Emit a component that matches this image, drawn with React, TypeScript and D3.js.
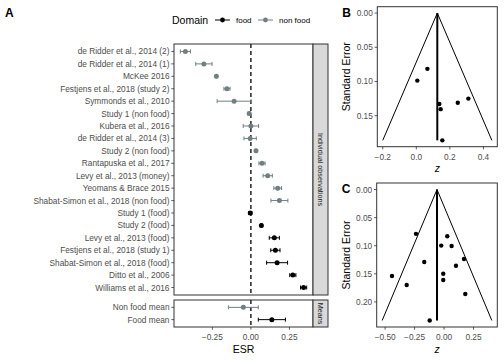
import React from "react";
import * as d3 from "d3";

// panel A: individual observations
const studies = [
  "de Ridder et al., 2014 (2)",
  "de Ridder et al., 2014 (1)",
  "McKee 2016",
  "Festjens et al., 2018 (study 2)",
  "Symmonds et al., 2010",
  "Study 1 (non food)",
  "Kubera et al., 2016",
  "de Ridder et al., 2014 (3)",
  "Study 2 (non food)",
  "Rantapuska et al., 2017",
  "Levy et al., 2013 (money)",
  "Yeomans & Brace 2015",
  "Shabat-Simon et al., 2018 (non food)",
  "Study 1 (food)",
  "Study 2 (food)",
  "Levy et al., 2013 (food)",
  "Festjens et al., 2018 (study 1)",
  "Shabat-Simon et al., 2018 (food)",
  "Ditto et al., 2006",
  "Williams et al., 2016",
];
const studyEsr = [
  -0.425, -0.305, -0.224, -0.155, -0.109, -0.011, 0.0, -0.005, 0.033, 0.072,
  0.109, 0.174, 0.185, -0.004, 0.068, 0.152, 0.159, 0.17, 0.272, 0.342,
];
const studyHalf = [
  0.033, 0.053, 0.004, 0.02, 0.11, 0.008, 0.05, 0.04, 0.006, 0.02, 0.03, 0.025,
  0.055, 0.01, 0.005, 0.033, 0.03, 0.068, 0.02, 0.02,
];
const studyDomain = [
  "non food", "non food", "non food", "non food", "non food", "non food",
  "non food", "non food", "non food", "non food", "non food", "non food",
  "non food", "food", "food", "food", "food", "food", "food", "food",
];

// panel A: means
const meanLabels = ["Non food mean", "Food mean"];
const meanEsr = [-0.049, 0.136];
const meanHalf = [0.097, 0.088];
const meanDomain = ["non food", "food"];

const xTicksA = [-0.25, 0, 0.25];

// panel B: food funnel
const foodZ = [0.006, 0.066, 0.137, 0.145, 0.247, 0.31, 0.155];
const foodSE = [0.0987, 0.0815, 0.133, 0.1404, 0.131, 0.125, 0.186];
const foodFunnel = { center: 0.125, seMax: 0.186, lo: -0.2, hi: 0.45 };
const xTicksB = [-0.2, 0, 0.2, 0.4];
const yTicksB = [0, 0.05, 0.1, 0.15];

// panel C: non food funnel
const nonFoodZ = [
  -0.238, 0.027, -0.024, 0.064, 0.169, -0.168, 0.101, -0.442, -0.007, -0.007,
  -0.317, 0.18, -0.122,
];
const nonFoodSE = [
  0.0789, 0.083, 0.0998, 0.1004, 0.1237, 0.129, 0.1357, 0.154, 0.15, 0.161,
  0.17, 0.186, 0.233,
];
const nonFoodFunnel = { center: -0.06, seMax: 0.233, lo: -0.525, hi: 0.405 };
const xTicksC = [-0.5, -0.25, 0, 0.25];
const yTicksC = [0, 0.05, 0.1, 0.15, 0.2];

const FONT = "Liberation Sans, Arial, Helvetica, sans-serif";
const AXIS_TEXT = "#4d4d4d";
const LINE = "#333333";
const colors: Record<string, string> = { food: "#000000", "non food": "#717f80" };

function expand(lo: number, hi: number, f = 0.05): [number, number] {
  const pad = (hi - lo) * f;
  return [lo - pad, hi + pad];
}

function ForestRow({ x, y, v, h, dom }: any) {
  const c = colors[dom];
  return (
    <g>
      <line x1={x(v - h)} x2={x(v + h)} y1={y} y2={y} stroke={c} strokeWidth={1} />
      <line x1={x(v - h)} x2={x(v - h)} y1={y - 2} y2={y + 2} stroke={c} strokeWidth={1} />
      <line x1={x(v + h)} x2={x(v + h)} y1={y - 2} y2={y + 2} stroke={c} strokeWidth={1} />
      <circle cx={x(v)} cy={y} r={2.5} fill={c} />
    </g>
  );
}

function Strip({ x, y0, y1, label }: any) {
  const cx = x + 7.5;
  const cy = (y0 + y1) / 2;
  return (
    <g>
      <rect x={x} y={y0} width={15} height={y1 - y0} fill="#d9d9d9" stroke={LINE} strokeWidth={1} />
      <text
        transform={`translate(${cx},${cy}) rotate(90)`}
        textAnchor="middle"
        dominantBaseline="central"
        fontSize={7.2}
        fill="#1a1a1a"
      >
        {label}
      </text>
    </g>
  );
}

function PanelA() {
  const left = 174;
  const right = 313;
  const top1 = 44;
  const bot1 = 295;
  const top2 = 300;
  const bot2 = 327;

  const allLo = [...studyEsr.map((v, i) => v - studyHalf[i]), ...meanEsr.map((v, i) => v - meanHalf[i])];
  const allHi = [...studyEsr.map((v, i) => v + studyHalf[i]), ...meanEsr.map((v, i) => v + meanHalf[i])];
  const x = d3
    .scaleLinear()
    .domain(expand(d3.min(allLo)!, d3.max(allHi)!))
    .range([left, right]);

  const y1 = d3.scalePoint<string>().domain(studies).range([top1, bot1]).padding(0.6);
  const y2 = d3.scalePoint<string>().domain(meanLabels).range([top2, bot2]).padding(0.6);

  const yLabels = (scale: any, labels: string[]) =>
    labels.map((s) => (
      <g key={s}>
        <line x1={left - 2.7} x2={left} y1={scale(s)} y2={scale(s)} stroke={LINE} strokeWidth={0.8} />
        <text x={left - 4.5} y={scale(s)} textAnchor="end" dominantBaseline="central" fontSize={8.3} fill={AXIS_TEXT}>
          {s}
        </text>
      </g>
    ));

  return (
    <g>
      <text x={5} y={16.5} fontSize={12} fontWeight="bold">A</text>

      {/* legend */}
      <text x={172} y={24} fontSize={10.5} fill="#000">Domain</text>
      {["food", "non food"].map((d, i) => {
        const kx = 215 + i * 43;
        return (
          <g key={d}>
            <line x1={kx} x2={kx + 15} y1={20} y2={20} stroke={colors[d]} strokeWidth={1} />
            <circle cx={kx + 7.5} cy={20} r={2.4} fill={colors[d]} />
            <text x={kx + 21} y={20} dominantBaseline="central" fontSize={8}>{d}</text>
          </g>
        );
      })}

      {/* top facet */}
      <rect x={left} y={top1} width={right - left} height={bot1 - top1} fill="white" />
      <line x1={x(0)} x2={x(0)} y1={top1} y2={bot1} stroke="#000" strokeWidth={1.3} strokeDasharray="4,3" />
      {studies.map((s, i) => (
        <ForestRow key={s} x={x} y={y1(s)} v={studyEsr[i]} h={studyHalf[i]} dom={studyDomain[i]} />
      ))}
      <rect x={left} y={top1} width={right - left} height={bot1 - top1} fill="none" stroke={LINE} strokeWidth={1} />
      <Strip x={right} y0={top1} y1={bot1} label="Individual observations" />
      {yLabels(y1, studies)}

      {/* bottom facet */}
      <line x1={x(0)} x2={x(0)} y1={top2} y2={bot2} stroke="#000" strokeWidth={1.3} strokeDasharray="4,3" />
      {meanLabels.map((s, i) => (
        <ForestRow key={s} x={x} y={y2(s)} v={meanEsr[i]} h={meanHalf[i]} dom={meanDomain[i]} />
      ))}
      <rect x={left} y={top2} width={right - left} height={bot2 - top2} fill="none" stroke={LINE} strokeWidth={1} />
      <Strip x={right} y0={top2} y1={bot2} label="Means" />
      {yLabels(y2, meanLabels)}

      {/* x axis */}
      {xTicksA.map((t) => (
        <g key={t}>
          <line x1={x(t)} x2={x(t)} y1={bot2} y2={bot2 + 2.7} stroke={LINE} strokeWidth={0.8} />
          <text x={x(t)} y={bot2 + 10} textAnchor="middle" dominantBaseline="central" fontSize={8.3} fill={AXIS_TEXT}>
            {d3.format(".2f")(t)}
          </text>
        </g>
      ))}
      <text x={(left + right) / 2} y={348.5} textAnchor="middle" dominantBaseline="central" fontSize={10.5}>ESR</text>
    </g>
  );
}

function FunnelPanel({ z, se, funnel, xTicks, yTicks, box, label, fmt }: any) {
  const [left, right, top, bottom] = box;
  const x = d3
    .scaleLinear()
    .domain(expand(Math.min(funnel.lo, d3.min(z)!), Math.max(funnel.hi, d3.max(z)!)))
    .range([left, right]);
  const y = d3
    .scaleLinear()
    .domain(expand(0, Math.max(funnel.seMax, d3.max(se)!)))
    .range([top, bottom]);
  const edges = d3.line<[number, number]>().x((d) => x(d[0])).y((d) => y(d[1]));
  const funnelPath = edges([
    [funnel.lo, funnel.seMax],
    [funnel.center, 0],
    [funnel.hi, funnel.seMax],
  ]);

  return (
    <g>
      <text x={left - 35} y={top + 10} fontSize={12} fontWeight="bold">{label}</text>
      <rect x={left} y={top} width={right - left} height={bottom - top} fill="white" />
      <path d={funnelPath!} fill="none" stroke="#000" strokeWidth={1} />
      <line
        x1={x(funnel.center)}
        x2={x(funnel.center)}
        y1={y(0)}
        y2={y(funnel.seMax)}
        stroke="#000"
        strokeWidth={2}
      />
      {z.map((v: number, i: number) => (
        <circle key={i} cx={x(v)} cy={y(se[i])} r={2.2} fill="#000" />
      ))}
      <rect x={left} y={top} width={right - left} height={bottom - top} fill="none" stroke={LINE} strokeWidth={1} />

      {yTicks.map((t: number) => (
        <g key={t}>
          <line x1={left - 2.7} x2={left} y1={y(t)} y2={y(t)} stroke={LINE} strokeWidth={0.8} />
          <text x={left - 4.5} y={y(t)} textAnchor="end" dominantBaseline="central" fontSize={8.3} fill={AXIS_TEXT}>
            {d3.format(".2f")(t)}
          </text>
        </g>
      ))}
      {xTicks.map((t: number) => (
        <g key={t}>
          <line x1={x(t)} x2={x(t)} y1={bottom} y2={bottom + 2.7} stroke={LINE} strokeWidth={0.8} />
          <text x={x(t)} y={bottom + 10} textAnchor="middle" dominantBaseline="central" fontSize={8.3} fill={AXIS_TEXT}>
            {d3.format(fmt)(t)}
          </text>
        </g>
      ))}
      <text
        transform={`translate(${left - 31},${(top + bottom) / 2}) rotate(-90)`}
        textAnchor="middle"
        dominantBaseline="central"
        fontSize={10.5}
      >
        Standard Error
      </text>
      <text x={(left + right) / 2} y={bottom + 21.5} textAnchor="middle" dominantBaseline="central" fontSize={10.5} fontStyle="italic">
        z
      </text>
    </g>
  );
}

export default function App() {
  return (
    <svg
      width={504}
      height={360}
      style={{ position: "absolute", left: 0, top: 0, background: "white", fontFamily: FONT }}
    >
      <rect width={504} height={360} fill="white" />
      <PanelA />
      <FunnelPanel
        z={foodZ}
        se={foodSE}
        funnel={foodFunnel}
        xTicks={xTicksB}
        yTicks={yTicksB}
        box={[377.3, 497.3, 6.7, 146.7]}
        label="B"
        fmt=".1f"
      />
      <FunnelPanel
        z={nonFoodZ}
        se={nonFoodSE}
        funnel={nonFoodFunnel}
        xTicks={xTicksC}
        yTicks={yTicksC}
        box={[376.7, 497.3, 183, 327]}
        label="C"
        fmt=".2f"
      />
    </svg>
  );
}
